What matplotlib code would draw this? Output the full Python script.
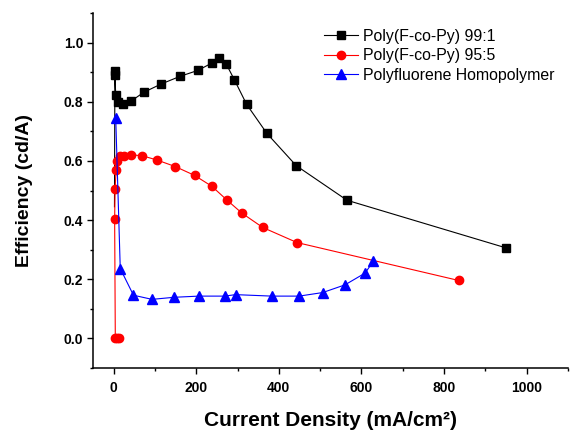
import matplotlib.pyplot as plt

plt.rcParams['font.family'] = ['Liberation Sans', 'DejaVu Sans']

# Poly(F-co-Py) 99:1  (first point has no marker, only the line reaches it)
x_991 = [2, 3, 3, 5, 10, 22, 43, 73, 115, 161, 204, 238, 256, 272, 292, 322, 371, 442, 565, 950]
y_991 = [0.445, 0.905, 0.89, 0.824, 0.80, 0.794, 0.803, 0.832, 0.86, 0.886, 0.906, 0.931,
         0.948, 0.929, 0.875, 0.791, 0.693, 0.584, 0.467, 0.306]

# Poly(F-co-Py) 95:5
x_955 = [12, 8, 4, 2.4, 3.4, 6, 9, 15, 25, 43, 68, 105, 149, 196, 238, 274, 311, 361, 444, 835]
y_955 = [0, 0, 0, 0.402, 0.504, 0.569, 0.601, 0.615, 0.618, 0.620, 0.618, 0.603, 0.581,
         0.551, 0.514, 0.468, 0.423, 0.375, 0.324, 0.196]

# Polyfluorene Homopolymer
x_pf = [5, 16, 48, 93, 146, 206, 269, 295, 383, 449, 506, 560, 609, 629]
y_pf = [0.745, 0.236, 0.146, 0.132, 0.139, 0.143, 0.143, 0.148, 0.143, 0.143, 0.155,
        0.181, 0.221, 0.262]

labels = ['Poly(F-co-Py) 99:1', 'Poly(F-co-Py) 95:5', 'Polyfluorene Homopolymer']

fig = plt.figure(figsize=(5.7, 4.34), dpi=100)
ax = fig.add_axes([93 / 570, 1 - 368 / 434, 475 / 570, 355 / 434])

ax.plot(x_991, y_991, color='black', lw=0.8, marker='s', ms=5.5,
        markevery=slice(1, None), label=labels[0])
ax.plot(x_955, y_955, color='red', lw=0.8, marker='o', ms=6, label=labels[1])
ax.plot(x_pf, y_pf, color='blue', lw=0.8, marker='^', ms=7, label=labels[2])

ax.set_xlim(-50, 1100)
ax.set_ylim(-0.1, 1.1)
ax.set_xticks([0, 200, 400, 600, 800, 1000])
ax.set_xticks([100, 300, 500, 700, 900, 1100], minor=True)
ax.set_yticks([0.0, 0.2, 0.4, 0.6, 0.8, 1.0])
ax.set_yticks([-0.1, 0.1, 0.3, 0.5, 0.7, 0.9, 1.1], minor=True)
ax.set_yticklabels(['0.0', '0.2', '0.4', '0.6', '0.8', '1.0'])

ax.spines['top'].set_visible(False)
ax.spines['right'].set_visible(False)
for s in ['left', 'bottom']:
    ax.spines[s].set_linewidth(1.1)
ax.tick_params(which='major', direction='out', length=4, width=1, labelsize=10, pad=3)
ax.tick_params(axis='x', which='major', pad=5)
ax.tick_params(which='minor', direction='out', length=2.2, width=1)
for lab in ax.get_xticklabels() + ax.get_yticklabels():
    lab.set_fontweight('bold')

ax.set_xlabel('Current Density (mA/cm²)', fontsize=15, fontweight='bold', labelpad=12)
ax.set_ylabel('Efficiency (cd/A)', fontsize=14, fontweight='bold', labelpad=22)

ax.legend(loc='upper left', bbox_to_anchor=(0.486, 0.955), frameon=False, fontsize=11.4,
          borderpad=0, handlelength=2.15, handletextpad=0.32, labelspacing=0.28,
          borderaxespad=0)

fig.savefig('out.png', dpi=100)
